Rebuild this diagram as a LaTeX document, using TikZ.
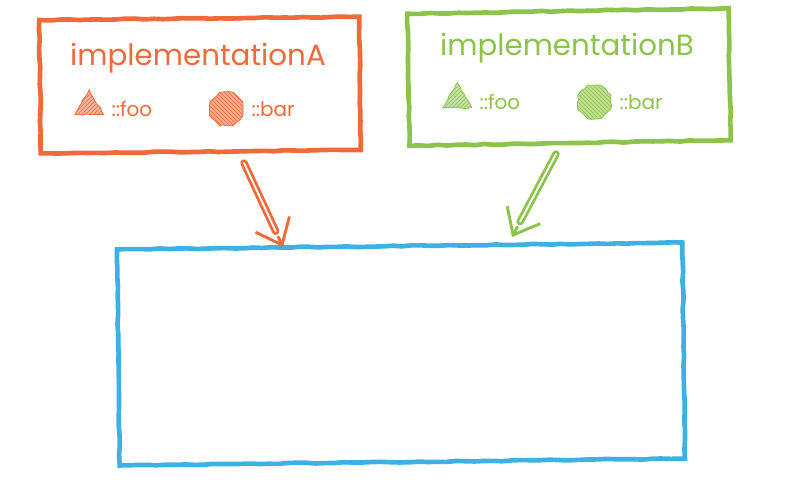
\documentclass[tikz,border=0pt]{standalone}
\usepackage{fontspec}
\setmainfont{Poppins}
\usetikzlibrary{positioning,calc,arrows.meta,patterns,shapes.geometric,decorations.pathmorphing}

\definecolor{implAcol}{HTML}{EF6A3A}
\definecolor{implBcol}{HTML}{8CC34A}
\definecolor{targetcol}{HTML}{3DB1E3}

\tikzset{every picture/.style={line width=0.75pt}}
\tikzset{
	sketchbox/.style={draw=#1, line width=3.5pt, inner sep=0pt, decorate,
		decoration={random steps, segment length=7pt, amplitude=0.4pt}},
	titletext/.style={text=#1, inner sep=0.75pt, font=\fontsize{22}{26}\selectfont},
	membertext/.style={text=#1, inner sep=0.75pt, font=\fontsize{15}{18}\selectfont},
	fooicon/.style={regular polygon, regular polygon sides=3, minimum size=25pt, inner sep=0pt,
		fill=#1!50, draw=#1, line width=0.6pt,
		postaction={pattern=north east lines, pattern color=#1},
		decorate, decoration={random steps, segment length=3pt, amplitude=0.6pt}},
	baricon/.style={regular polygon, regular polygon sides=8, minimum size=27pt, inner sep=0pt,
		fill=#1!55, draw=#1, line width=0.6pt,
		postaction={pattern=north west lines, pattern color=#1},
		decorate, decoration={random steps, segment length=3pt, amplitude=0.6pt}},
	shaft/.style={draw=#1, line width=2.1pt, double, double distance=1.4pt, line cap=round},
	tiphead/.style={draw=#1, line width=2.2pt, line cap=round, line join=round,
		-{Straight Barb[length=17pt, width=28pt, line width=2.2pt]}}
}

\begin{document}
\begin{tikzpicture}[x=0.75pt,y=0.75pt,yscale=-1,xscale=1]
	\path[use as bounding box] (0,0) rectangle (800,480);
	\pgfmathsetseed{7}
	
	%Boxes
	\node[sketchbox=implAcol, minimum width=240pt, minimum height=100pt, rotate=0.6] (implA) at (200,85) {};
	\node[sketchbox=implBcol, minimum width=241pt, minimum height=99pt, rotate=1] (implB) at (569,77) {};
	\node[sketchbox=targetcol, minimum width=424pt, minimum height=162pt, rotate=0.7] (target) at (401,354) {};
	
	% Text Node
	\node[titletext=implAcol] (titleA) at (198,58) {implementationA};
	% Text Node
	\node[titletext=implBcol] (titleB) at (567,48) {implementationB};
	
	%Members of A
	\node[membertext=implAcol, anchor=west] (fooA) at (110,109) {::foo};
	\node[fooicon=implAcol, left=8pt of fooA, yshift=2pt] (fooIconA) {};
	\node[membertext=implAcol, anchor=west] (barA) at (250,109) {::bar};
	\node[baricon=implAcol, left=5pt of barA] (barIconA) {};
	
	%Members of B
	\node[membertext=implBcol, anchor=west] (fooB) at (478,102) {::foo};
	\node[fooicon=implBcol, left=8pt of fooB, yshift=2pt] (fooIconB) {};
	\node[membertext=implBcol, anchor=west] (barB) at (618,102) {::bar};
	\node[baricon=implBcol, left=5pt of barB] (barIconB) {};
	
	%Arrows
	\coordinate (aStart) at (244,163);
	\coordinate (aEnd) at (283,247);
	\coordinate (bStart) at (556,154);
	\coordinate (bEnd) at (512,237);
	\draw[shaft=implAcol, shorten >=13pt] (aStart) -- (aEnd);
	\draw[tiphead=implAcol] ($(aEnd)!0.12!(aStart)$) -- (aEnd);
	\draw[shaft=implBcol, shorten >=13pt] (bStart) -- (bEnd);
	\draw[tiphead=implBcol] ($(bEnd)!0.12!(bStart)$) -- (bEnd);
	
\end{tikzpicture}
\end{document}
